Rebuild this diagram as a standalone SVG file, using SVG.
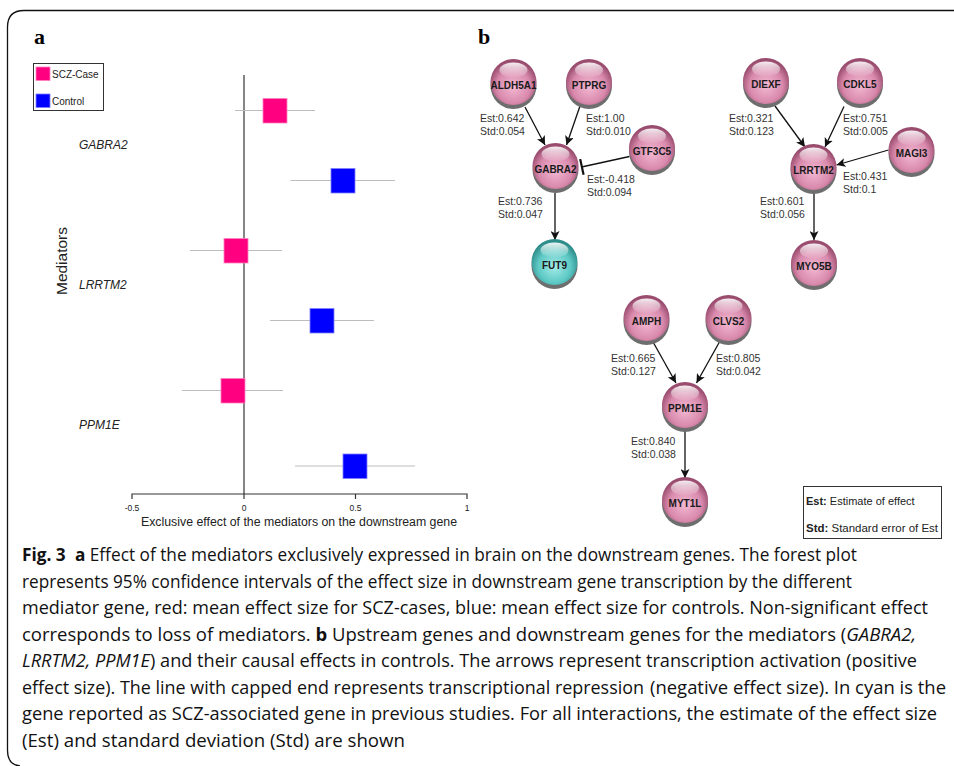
<svg xmlns="http://www.w3.org/2000/svg" width="954" height="766" viewBox="0 0 954 766">
<defs>
<style>
.lbl{font-family:"Liberation Serif",serif;font-weight:bold;font-size:22px;fill:#000}
.ax{font-family:"Liberation Sans",Arial,sans-serif;fill:#222}
.gene{font-family:"Liberation Sans",Arial,sans-serif;font-style:italic;font-size:12px;fill:#222}
.ci{stroke:#bdbdbd;stroke-width:1.2;fill:none}
.pk{fill:#ff0080;stroke:#ff7fbf;stroke-width:0.8}
.bl{fill:#0000ff;stroke:#7f7fff;stroke-width:0.8}
.nt{font-family:"Liberation Sans",Arial,sans-serif;font-weight:bold;font-size:10px;fill:#1a1a1a;text-anchor:middle}
.est{font-family:"Liberation Sans",Arial,sans-serif;font-size:10.5px;fill:#333}
.edge{stroke:#111;stroke-width:1.3;fill:none}
.shadow{fill:#6e6e6e}
.cap{font-family:"Open Sans","Noto Sans",sans-serif;font-size:18.5px;fill:#111}
.b{font-weight:bold}
.i{font-style:italic}
</style>
<radialGradient id="gPink" cx="50%" cy="60%" r="55%">
<stop offset="0" stop-color="#f3b9d2"/>
<stop offset="0.65" stop-color="#d98aad"/>
<stop offset="1" stop-color="#9a4c6f"/>
</radialGradient>
<radialGradient id="gCyan" cx="50%" cy="60%" r="55%">
<stop offset="0" stop-color="#a6ece9"/>
<stop offset="0.65" stop-color="#5cc8c4"/>
<stop offset="1" stop-color="#2e8d8a"/>
</radialGradient>
<linearGradient id="gHi" x1="0" y1="0" x2="0" y2="1">
<stop offset="0" stop-color="#ffffff" stop-opacity="0.9"/>
<stop offset="1" stop-color="#ffffff" stop-opacity="0.05"/>
</linearGradient>
<marker id="arr" viewBox="0 0 10 10" refX="10" refY="5" markerWidth="9" markerHeight="9" markerUnits="userSpaceOnUse" orient="auto">
<path d="M0,0 L10,5 L0,10 L2.5,5 Z" fill="#111"/>
</marker>
<marker id="bar" viewBox="0 0 4 16" refX="2" refY="8" markerWidth="4" markerHeight="16" markerUnits="userSpaceOnUse" orient="auto">
<rect x="0.5" y="0" width="2.2" height="16" fill="#111"/>
</marker>
<g id="sphP">
<circle cx="0" cy="4" r="23" class="shadow"/>
<circle cx="0" cy="0" r="23" fill="url(#gPink)"/>
<ellipse cx="0" cy="-12" rx="14" ry="7.5" fill="url(#gHi)"/>
</g>
<g id="sphC">
<circle cx="0" cy="4" r="23" class="shadow"/>
<circle cx="0" cy="0" r="23" fill="url(#gCyan)"/>
<ellipse cx="0" cy="-12" rx="14" ry="7.5" fill="url(#gHi)"/>
</g>
</defs>
<rect width="954" height="766" fill="#fff"/>
<path d="M954 10.5 H24 Q7.5 10.5 7.5 27 V750 Q7.5 765 20 766" fill="none" stroke="#111" stroke-width="1.3"/>

<!-- Panel a -->
<g id="panel-a">
<text class="lbl" x="34" y="44">a</text>
<g id="legend-a">
<rect x="33.5" y="63.5" width="70" height="47" fill="#fff" stroke="#333" stroke-width="1"/>
<rect x="36" y="67" width="14" height="13.5" class="pk"/>
<rect x="36" y="94" width="14" height="13.5" class="bl"/>
<text class="ax" x="52" y="77.5" font-size="10">SCZ-Case</text>
<text class="ax" x="52" y="104.5" font-size="10">Control</text>
</g>
<line x1="244" y1="75" x2="244" y2="494" stroke="#333" stroke-width="1.2"/>
<g id="axis">
<path d="M132 499 V494 H467 V499 M244 494 V499 M355.5 494 V499" fill="none" stroke="#333" stroke-width="1.2"/>
<text class="ax" font-size="8.5" text-anchor="middle" x="132" y="511">-0.5</text>
<text class="ax" font-size="8.5" text-anchor="middle" x="244" y="511">0</text>
<text class="ax" font-size="8.5" text-anchor="middle" x="355.5" y="511">0.5</text>
<text class="ax" font-size="8.5" text-anchor="middle" x="467" y="511">1</text>
<text class="ax" font-size="12" text-anchor="middle" x="299" y="526" textLength="316" lengthAdjust="spacingAndGlyphs">Exclusive effect of the mediators on the downstream gene</text>
</g>
<text class="ax" font-size="15.5" text-anchor="middle" transform="translate(67 261) rotate(-90)">Mediators</text>
<text class="gene" x="79" y="149">GABRA2</text>
<text class="gene" x="79" y="289">LRRTM2</text>
<text class="gene" x="79" y="429">PPM1E</text>
<g id="bars">
<line class="ci" x1="235" y1="110.5" x2="315" y2="110.5"/>
<rect class="pk" x="263" y="98.5" width="24" height="24.5"/>
<line class="ci" x1="290.5" y1="180.5" x2="395" y2="180.5"/>
<rect class="bl" x="331" y="168.5" width="24" height="24.5"/>
<line class="ci" x1="190" y1="250.5" x2="282" y2="250.5"/>
<rect class="pk" x="224" y="238.5" width="24" height="24.5"/>
<line class="ci" x1="270" y1="320.5" x2="374" y2="320.5"/>
<rect class="bl" x="310" y="308.5" width="24" height="24.5"/>
<line class="ci" x1="182" y1="390.5" x2="283" y2="390.5"/>
<rect class="pk" x="221" y="378.5" width="24" height="24.5"/>
<line class="ci" x1="295" y1="466" x2="415" y2="466"/>
<rect class="bl" x="343" y="454" width="24" height="24.5"/>
</g>
</g>

<!-- Panel b -->
<text class="lbl" x="478" y="44">b</text>
<g id="connectors">
<line class="edge" x1="525" y1="107" x2="545" y2="145" marker-end="url(#arr)"/>
<line class="edge" x1="580" y1="106" x2="566.5" y2="145" marker-end="url(#arr)"/>
<line class="edge" x1="629.5" y1="156.5" x2="581.5" y2="167" marker-end="url(#bar)"/>
<line class="edge" x1="555" y1="193" x2="555" y2="240" marker-end="url(#arr)"/>
<line class="edge" x1="775" y1="106" x2="805" y2="147" marker-end="url(#arr)"/>
<line class="edge" x1="844" y1="106.5" x2="825" y2="147" marker-end="url(#arr)"/>
<line class="edge" x1="888.5" y1="150" x2="836.5" y2="165" marker-end="url(#arr)"/>
<line class="edge" x1="814" y1="191" x2="814" y2="240" marker-end="url(#arr)"/>
<line class="edge" x1="652.5" y1="341" x2="676" y2="383" marker-end="url(#arr)"/>
<line class="edge" x1="720" y1="341" x2="696.5" y2="383" marker-end="url(#arr)"/>
<line class="edge" x1="685" y1="431" x2="685" y2="478" marker-end="url(#arr)"/>
</g>
<g id="edge-labels">
<text class="est" x="480" y="122">Est:0.642</text><text class="est" x="480" y="135">Std:0.054</text>
<text class="est" x="586" y="122">Est:1.00</text><text class="est" x="586" y="135">Std:0.010</text>
<text class="est" x="587" y="183">Est:-0.418</text><text class="est" x="587" y="196">Std:0.094</text>
<text class="est" x="498" y="205">Est:0.736</text><text class="est" x="498" y="218">Std:0.047</text>
<text class="est" x="729" y="122">Est:0.321</text><text class="est" x="729" y="135">Std:0.123</text>
<text class="est" x="843" y="122">Est:0.751</text><text class="est" x="843" y="135">Std:0.005</text>
<text class="est" x="843" y="180">Est:0.431</text><text class="est" x="843" y="193">Std:0.1</text>
<text class="est" x="760" y="205">Est:0.601</text><text class="est" x="760" y="218">Std:0.056</text>
<text class="est" x="611" y="362">Est:0.665</text><text class="est" x="611" y="375">Std:0.127</text>
<text class="est" x="716" y="362">Est:0.805</text><text class="est" x="716" y="375">Std:0.042</text>
<text class="est" x="631" y="445">Est:0.840</text><text class="est" x="631" y="458">Std:0.038</text>
</g>
<g id="node-ALDH5A1"><use href="#sphP" x="513.5" y="82"/><text class="nt" x="513.5" y="88.5">ALDH5A1</text></g>
<g id="node-PTPRG"><use href="#sphP" x="589" y="82"/><text class="nt" x="589" y="88.5">PTPRG</text></g>
<g id="node-GTF3C5"><use href="#sphP" x="652" y="148"/><text class="nt" x="652" y="154.5">GTF3C5</text></g>
<g id="node-GABRA2"><use href="#sphP" x="555.5" y="166"/><text class="nt" x="555.5" y="172.5">GABRA2</text></g>
<g id="node-FUT9"><use href="#sphC" x="554.5" y="262"/><text class="nt" x="554.5" y="268.5">FUT9</text></g>
<g id="node-DIEXF"><use href="#sphP" x="766" y="81"/><text class="nt" x="766" y="87.5">DIEXF</text></g>
<g id="node-CDKL5"><use href="#sphP" x="860" y="81"/><text class="nt" x="860" y="87.5">CDKL5</text></g>
<g id="node-MAGI3"><use href="#sphP" x="911.5" y="150"/><text class="nt" x="911.5" y="156.5">MAGI3</text></g>
<g id="node-LRRTM2"><use href="#sphP" x="813.5" y="167"/><text class="nt" x="813.5" y="173.5">LRRTM2</text></g>
<g id="node-MYO5B"><use href="#sphP" x="814" y="263"/><text class="nt" x="814" y="269.5">MYO5B</text></g>
<g id="node-AMPH"><use href="#sphP" x="646.5" y="318"/><text class="nt" x="646.5" y="324.5">AMPH</text></g>
<g id="node-CLVS2"><use href="#sphP" x="728.5" y="318"/><text class="nt" x="728.5" y="324.5">CLVS2</text></g>
<g id="node-PPM1E"><use href="#sphP" x="685" y="405"/><text class="nt" x="685" y="411.5">PPM1E</text></g>
<g id="node-MYT1L"><use href="#sphP" x="685" y="500"/><text class="nt" x="685" y="506.5">MYT1L</text></g>
<g id="legend-b">
<rect x="803.5" y="486.5" width="138" height="52" fill="#fff" stroke="#333" stroke-width="1"/>
<text class="ax" font-size="11" x="806" y="505"><tspan font-weight="bold">Est:</tspan> Estimate of effect</text>
<text class="ax" font-size="11" x="806" y="532" textLength="132" lengthAdjust="spacingAndGlyphs"><tspan font-weight="bold">Std:</tspan> Standard error of Est</text>
</g>

<!-- Caption -->
<g id="caption">
<text class="cap" x="22" y="561" textLength="835" lengthAdjust="spacingAndGlyphs"><tspan class="b">Fig. 3</tspan> <tspan class="b" dx="5">a</tspan> Effect of the mediators exclusively expressed in brain on the downstream genes. The forest plot</text>
<text class="cap" x="22" y="587.5" textLength="830" lengthAdjust="spacingAndGlyphs">represents 95% confidence intervals of the effect size in downstream gene transcription by the different</text>
<text class="cap" x="22" y="614" textLength="906" lengthAdjust="spacingAndGlyphs">mediator gene, red: mean effect size for SCZ-cases, blue: mean effect size for controls. Non-significant effect</text>
<text class="cap" x="22" y="640.5" textLength="894" lengthAdjust="spacingAndGlyphs">corresponds to loss of mediators. <tspan class="b">b</tspan> Upstream genes and downstream genes for the mediators (<tspan class="i">GABRA2,</tspan></text>
<text class="cap" x="22" y="667" textLength="895" lengthAdjust="spacingAndGlyphs"><tspan class="i">LRRTM2, PPM1E</tspan>) and their causal effects in controls. The arrows represent transcription activation (positive</text>
<text class="cap" x="22" y="693.5" textLength="622" lengthAdjust="spacingAndGlyphs">effect size). The line with capped end represents transcriptional repression</text>
<text class="cap" x="650" y="693.5" textLength="296" lengthAdjust="spacingAndGlyphs">(negative effect size). In cyan is the</text>
<text class="cap" x="22" y="720" textLength="915" lengthAdjust="spacingAndGlyphs">gene reported as SCZ-associated gene in previous studies. For all interactions, the estimate of the effect size</text>
<text class="cap" x="22" y="746.5" textLength="383" lengthAdjust="spacingAndGlyphs">(Est) and standard deviation (Std) are shown</text>
</g>
</svg>
